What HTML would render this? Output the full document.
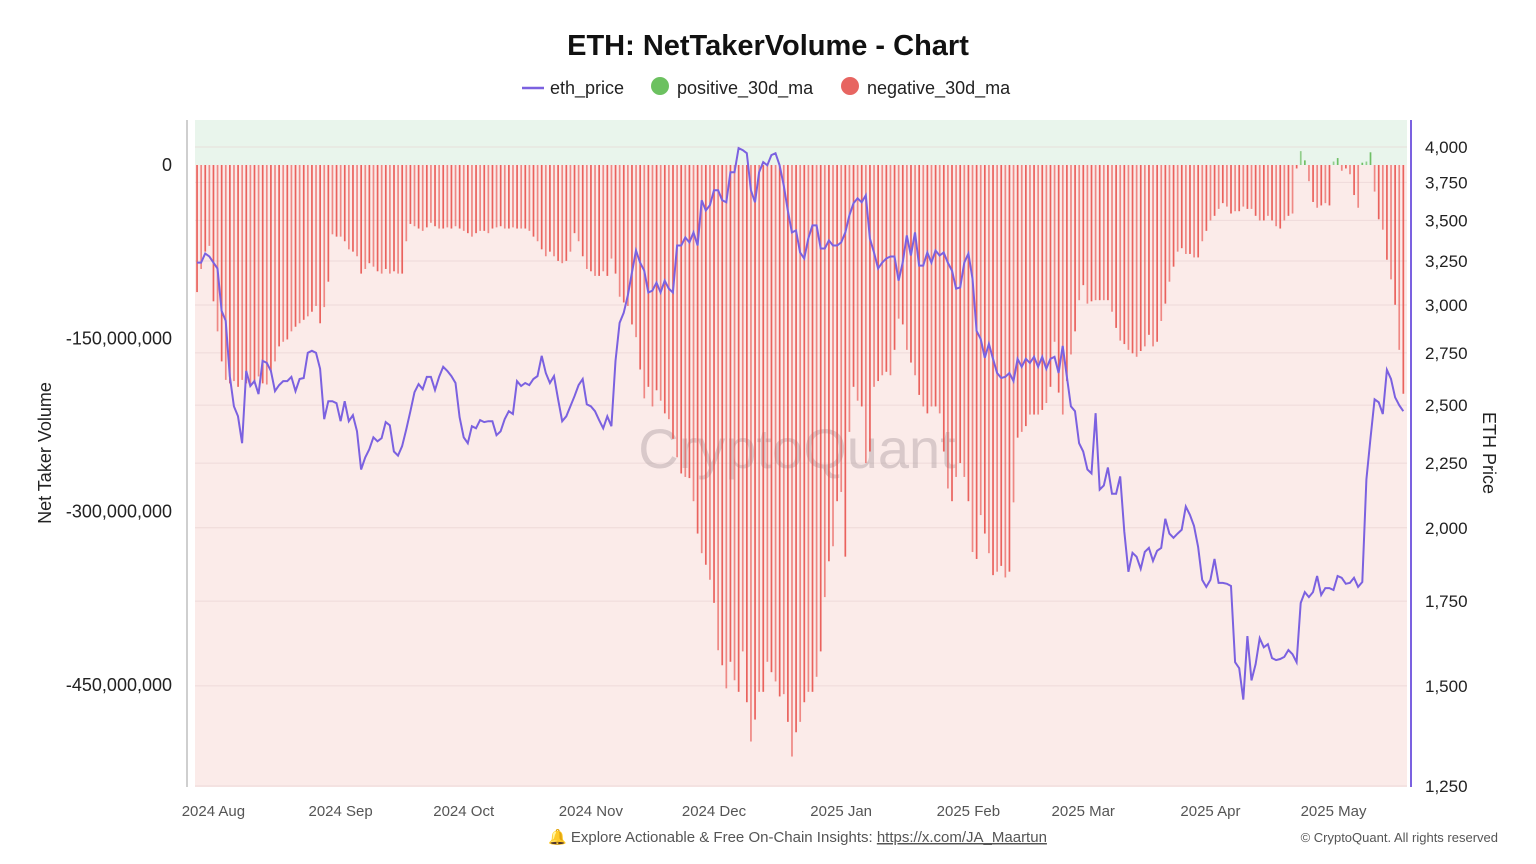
<!DOCTYPE html>
<html><head><meta charset="utf-8">
<style>
html,body{margin:0;padding:0;background:#fff;}
body{width:1536px;height:864px;overflow:hidden;font-family:"Liberation Sans",sans-serif;}
svg{display:block}
</style></head>
<body>
<svg id="chart" width="1536" height="864" viewBox="0 0 1536 864" xmlns="http://www.w3.org/2000/svg" font-family="Liberation Sans, sans-serif">
  <text x="768" y="55" text-anchor="middle" font-size="29" font-weight="bold" fill="#111">ETH: NetTakerVolume - Chart</text>
  <g>
    <g>
      <line x1="522" y1="88" x2="544" y2="88" stroke="#7b61e0" stroke-width="2.5"/>
      <text x="550" y="94" font-size="18" fill="#222">eth_price</text>
    </g>
    <g>
      <circle cx="660" cy="86" r="9" fill="#6cc160"/>
      <text x="677" y="94" font-size="18" fill="#222">positive_30d_ma</text>
    </g>
    <g>
      <circle cx="850" cy="86" r="9" fill="#e76561"/>
      <text x="867" y="94" font-size="18" fill="#222">negative_30d_ma</text>
    </g>
  </g>
  <rect x="195" y="120" width="1212" height="45" fill="#e9f5ec"/>
  <rect x="195" y="165" width="1212" height="622" fill="#fbebe9"/>
  <g id="grid"></g>
  <text x="797" y="468" text-anchor="middle" font-size="56" fill="#b0a0a5" fill-opacity="0.45">CryptoQuant</text>
  <g id="bars"></g>
  <path id="priceLine" fill="none" stroke="#7b61e0" stroke-width="2"/>
  <line x1="187" y1="120" x2="187" y2="787" stroke="#cfcfcf" stroke-width="2"/>
  <line x1="1411" y1="120" x2="1411" y2="787" stroke="#7b61e0" stroke-width="2"/>
  <g id="leftTicks"></g>
  <g id="rightTicks"></g>
  <g id="xTicks"></g>
  <text transform="translate(51,453) rotate(-90)" text-anchor="middle" font-size="18" fill="#222">Net Taker Volume</text>
  <text transform="translate(1483,453) rotate(90)" text-anchor="middle" font-size="18" fill="#222">ETH Price</text>
  <g>
    <text x="548" y="842" font-size="15" fill="#555">🔔 Explore Actionable &amp; Free On-Chain Insights: <tspan text-decoration="underline">https://x.com/JA_Maartun</tspan></text>
  </g>
  <text x="1498" y="842" text-anchor="end" font-size="13" fill="#555">© CryptoQuant. All rights reserved</text>
</svg>
<script>
// Net taker volume (millions), one value per day starting 2024-07-28
const volume = [
-110,-90,-75,-70,-118,-144,-170,-186,-189,-187,
-192,-186,-189,-191,-187,-183,-189,-190,-179,-170,
-157,-153,-151,-144,-140,-137,-134,-131,-127,-122,
-137,-123,-101,-60,-62,-62,-66,-73,-75,-79,
-94,-90,-85,-88,-92,-94,-90,-94,-92,-94,
-94,-66,-51,-53,-55,-57,-54,-50,-53,-55,
-55,-54,-55,-53,-55,-57,-59,-62,-59,-57,
-57,-59,-55,-54,-53,-55,-55,-54,-55,-55,
-55,-57,-62,-66,-73,-79,-75,-79,-83,-85,
-83,-75,-59,-66,-79,-90,-92,-96,-96,-92,
-96,-81,-94,-114,-119,-122,-138,-149,-177,-202,
-192,-209,-195,-204,-215,-220,-237,-253,-267,-270,
-271,-291,-319,-336,-346,-359,-379,-420,-433,-453,
-430,-446,-456,-421,-465,-499,-480,-456,-456,-430,
-439,-447,-460,-458,-482,-512,-491,-482,-465,-456,
-456,-443,-421,-374,-343,-330,-291,-283,-339,-231,
-192,-204,-209,-258,-248,-192,-187,-182,-179,-182,
-160,-133,-138,-160,-171,-182,-199,-209,-215,-209,
-209,-215,-248,-280,-291,-270,-258,-270,-291,-335,
-341,-303,-319,-336,-355,-352,-347,-357,-352,-292,
-236,-231,-226,-216,-216,-216,-212,-206,-192,-153,
-197,-216,-187,-164,-144,-117,-104,-120,-118,-117,
-117,-117,-117,-127,-141,-152,-155,-160,-163,-166,
-161,-157,-147,-157,-153,-135,-120,-101,-88,-75,
-72,-77,-77,-80,-80,-66,-57,-48,-44,-38,
-33,-36,-42,-40,-40,-36,-38,-38,-44,-48,
-48,-44,-48,-53,-55,-48,-44,-42,-3,12,
4,-14,-32,-37,-35,-33,-35,3,6,-5,
-3,-8,-26,-37,2,3,11,-23,-47,-56,
-82,-99,-121,-160,-198
];
// ETH price (USD), same days
const price = [
3241,3241,3295,3277,3241,3206,2969,2915,2636,2495,
2450,2333,2661,2589,2612,2551,2710,2700,2661,2565,
2593,2612,2612,2632,2565,2622,2627,2750,2760,2750,
2671,2437,2518,2518,2509,2428,2518,2428,2455,2384,
2224,2273,2307,2358,2341,2354,2424,2410,2298,2281,
2320,2393,2473,2560,2598,2574,2632,2632,2570,2632,
2681,2661,2636,2603,2446,2358,2333,2406,2397,2433,
2424,2428,2428,2367,2384,2437,2473,2460,2612,2589,
2603,2593,2622,2636,2735,2651,2603,2636,2527,2428,
2450,2495,2541,2593,2622,2504,2495,2473,2433,2397,
2450,2406,2710,2904,2958,3052,3182,3313,3241,3194,
3069,3080,3125,3069,3136,3091,3069,3343,3343,3393,
3362,3424,3343,3630,3564,3597,3697,3697,3630,3617,
3820,3820,3992,3977,3955,3697,3617,3820,3891,3869,
3941,3955,3869,3731,3564,3424,3436,3301,3265,3386,
3468,3468,3325,3325,3374,3343,3343,3362,3424,3532,
3610,3643,3617,3663,3386,3301,3206,3241,3265,3277,
3277,3136,3241,3405,3283,3424,3223,3223,3301,3241,
3313,3283,3301,3241,3194,3091,3097,3241,3295,3148,
2862,2820,2725,2795,2720,2651,2627,2632,2651,2612,
2720,2681,2720,2700,2730,2681,2730,2671,2720,2730,
2651,2785,2636,2495,2473,2333,2298,2224,2208,2464,
2144,2160,2232,2128,2128,2196,1986,1846,1911,1897,
1856,1914,1928,1883,1918,1928,2033,1979,1964,1979,
1993,2079,2048,2007,1932,1819,1796,1819,1890,1809,
1809,1806,1799,1566,1549,1463,1642,1515,1560,1636,
1609,1618,1578,1572,1575,1581,1601,1589,1566,1744,
1779,1763,1779,1832,1770,1792,1792,1786,1832,1826,
1806,1809,1826,1796,1812,2184,2354,2527,2513,2460,
2666,2622,2536,2500,2473
];
const leftTickValues = [0,-150,-300,-450];
const leftTickLabels = ["0","-150,000,000","-300,000,000","-450,000,000"];
const rightTickValues = [4000,3750,3500,3250,3000,2750,2500,2250,2000,1750,1500,1250];
const monthLabels = ["2024 Aug","2024 Sep","2024 Oct","2024 Nov","2024 Dec","2025 Jan","2025 Feb","2025 Mar","2025 Apr","2025 May"];
const monthDayOffsets = [4,35,65,96,126,157,188,216,247,277];

const NS="http://www.w3.org/2000/svg";
const xOf = i => 197 + i*4.103;
const yVol = v => 165 - v*(173.3/150);
const yPrice = p => 786 - 549.4*Math.log(p/1250);
function mk(tag, attrs, parent){const e=document.createElementNS(NS,tag);for(const k in attrs)e.setAttribute(k,attrs[k]);parent.appendChild(e);return e;}

const grid=document.getElementById('grid');
rightTickValues.forEach(p=>{
  const l=mk('line',{x1:195,x2:1407,y1:yPrice(p),y2:yPrice(p),stroke:'#e6cfcf','stroke-width':1,'stroke-opacity':0.6},grid);
  
  
});

const bars=document.getElementById('bars');
volume.forEach((v,i)=>{
  const y0=yVol(0), y1=yVol(v);
  const r=mk('rect',{x:xOf(i)-0.8,width:1.7,y:Math.min(y0,y1),height:Math.max(0.5,Math.abs(y1-y0)),fill:v>=0?'#62b957':'#e8534e','fill-opacity':i%2?0.65:0.9},bars);
  
  
});

document.getElementById('priceLine').setAttribute('d', price.map((p,i)=>(i?'L':'M')+xOf(i).toFixed(1)+' '+yPrice(p).toFixed(1)).join(' '));

const lt=document.getElementById('leftTicks');
leftTickValues.forEach((v,i)=>{
  const t=mk('text',{x:172,y:yVol(v)+6,'text-anchor':'end','font-size':18,fill:'#222'},lt);
  t.textContent=leftTickLabels[i];
  
  
});
const rt=document.getElementById('rightTicks');
rightTickValues.forEach(p=>{
  const t=mk('text',{x:1425,y:yPrice(p)+6,'font-size':17,fill:'#222'},rt);
  t.textContent=p.toLocaleString('en-US');
  
  
});
const xt=document.getElementById('xTicks');
monthLabels.forEach((m,i)=>{
  const t=mk('text',{x:xOf(monthDayOffsets[i]),y:816,'text-anchor':'middle','font-size':15,fill:'#555'},xt);
  t.textContent=m;
  
  
});
</script>
</body></html>
